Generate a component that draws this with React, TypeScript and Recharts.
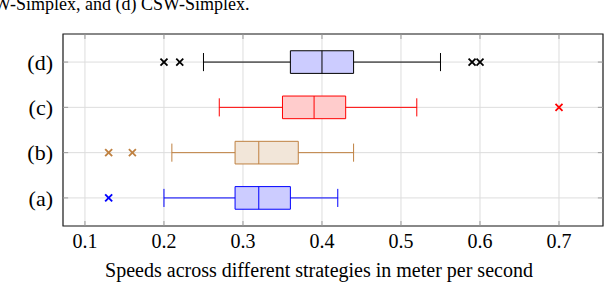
import React from "react";
import {
  ComposedChart,
  XAxis,
  YAxis,
  CartesianGrid,
  Scatter,
  ReferenceArea,
  ReferenceLine,
  Label,
} from "recharts";

// Strategies, bottom to top
const categories = ["(a)", "(b)", "(c)", "(d)"];
const whiskerLow = [0.2, 0.21, 0.27, 0.25];
const lowerQuartile = [0.29, 0.29, 0.35, 0.36];
const medians = [0.32, 0.32, 0.39, 0.4];
const upperQuartile = [0.36, 0.37, 0.43, 0.44];
const whiskerHigh = [0.42, 0.44, 0.52, 0.55];
const outliers = [[0.13], [0.13, 0.16], [0.7], [0.2, 0.22, 0.59, 0.6]];

const xTicks = [0.1, 0.2, 0.3, 0.4, 0.5, 0.6, 0.7];
const yTicks = [1, 2, 3, 4];

const lineColors = ["#0000ff", "#bf8040", "#ff0000", "#000000"];
const fillColors = ["#ccccff", "#f2e6d9", "#ffcccc", "#ccccff"];

const X_MIN = 0.0722;
const X_MAX = 0.7557;
const Y_MIN = 0.38;
const Y_MAX = 4.62;
const BOX_HALF = 0.25;
const CAP_HALF = 0.2;
const SERIF = "'Liberation Serif', 'Times New Roman', serif";

const CrossMark = (color: string) => (props: any) => {
  const { cx, cy } = props;
  const r = 3.5;
  return (
    <g stroke={color} strokeWidth={1.8}>
      <line x1={cx - r} y1={cy - r} x2={cx + r} y2={cy + r} />
      <line x1={cx - r} y1={cy + r} x2={cx + r} y2={cy - r} />
    </g>
  );
};

export default function App() {
  return (
    <div style={{ position: "absolute", left: 0, top: 0, width: 604, height: 286, overflow: "hidden", background: "#fff" }}>
      <div
        style={{
          position: "absolute",
          left: -6,
          top: -6,
          fontFamily: SERIF,
          fontSize: 18,
          whiteSpace: "nowrap",
          color: "#000",
        }}
      >
        W-Simplex, and (d) CSW-Simplex.
      </div>
      <ComposedChart
        width={604}
        height={286}
        margin={{ top: 34, right: 1, bottom: 0, left: 0 }}
      >
        <CartesianGrid stroke="#dddddd" strokeWidth={1} />
        <XAxis
          type="number"
          dataKey="x"
          domain={[X_MIN, X_MAX]}
          ticks={xTicks}
          allowDataOverflow
          height={60}
          tickLine={false}
          axisLine={false}
          tickFormatter={(v: number) => v.toFixed(1)}
          tick={{ fontFamily: SERIF, fontSize: 20, fill: "#000" }}
        >
          <Label
            value="Speeds across different strategies in meter per second"
            position="insideBottom"
            offset={9}
            dx={-14}
            style={{ fontFamily: SERIF, fontSize: 20, fill: "#000" }}
          />
        </XAxis>
        <YAxis
          type="number"
          dataKey="y"
          domain={[Y_MIN, Y_MAX]}
          ticks={yTicks}
          allowDataOverflow
          width={63}
          tickLine={false}
          axisLine={false}
          tickMargin={4}
          tickFormatter={(v: number) => categories[v - 1]}
          tick={{ fontFamily: SERIF, fontSize: 22, fill: "#000" }}
        />

        {/* inner tick marks */}
        {xTicks.map((t) => (
          <ReferenceLine key={"xb" + t} segment={[{ x: t, y: Y_MIN }, { x: t, y: Y_MIN + 0.11 }]} stroke="#999" />
        ))}
        {xTicks.map((t) => (
          <ReferenceLine key={"xt" + t} segment={[{ x: t, y: Y_MAX }, { x: t, y: Y_MAX - 0.11 }]} stroke="#999" />
        ))}
        {yTicks.map((t) => (
          <ReferenceLine key={"yl" + t} segment={[{ x: X_MIN, y: t }, { x: X_MIN + 0.0065, y: t }]} stroke="#999" />
        ))}
        {yTicks.map((t) => (
          <ReferenceLine key={"yr" + t} segment={[{ x: X_MAX, y: t }, { x: X_MAX - 0.0065, y: t }]} stroke="#999" />
        ))}

        {/* whiskers */}
        {categories.map((c, i) => (
          <ReferenceLine key={"wl" + c} segment={[{ x: whiskerLow[i], y: i + 1 }, { x: lowerQuartile[i], y: i + 1 }]} stroke={lineColors[i]} strokeWidth={1} />
        ))}
        {categories.map((c, i) => (
          <ReferenceLine key={"wh" + c} segment={[{ x: upperQuartile[i], y: i + 1 }, { x: whiskerHigh[i], y: i + 1 }]} stroke={lineColors[i]} strokeWidth={1} />
        ))}
        {categories.map((c, i) => (
          <ReferenceLine key={"cl" + c} segment={[{ x: whiskerLow[i], y: i + 1 - CAP_HALF }, { x: whiskerLow[i], y: i + 1 + CAP_HALF }]} stroke={lineColors[i]} strokeWidth={1} />
        ))}
        {categories.map((c, i) => (
          <ReferenceLine key={"ch" + c} segment={[{ x: whiskerHigh[i], y: i + 1 - CAP_HALF }, { x: whiskerHigh[i], y: i + 1 + CAP_HALF }]} stroke={lineColors[i]} strokeWidth={1} />
        ))}

        {/* boxes */}
        {categories.map((c, i) => (
          <ReferenceArea
            key={"box" + c}
            x1={lowerQuartile[i]}
            x2={upperQuartile[i]}
            y1={i + 1 - BOX_HALF}
            y2={i + 1 + BOX_HALF}
            fill={fillColors[i]}
            fillOpacity={1}
            stroke={lineColors[i]}
            strokeWidth={1}
          />
        ))}
        {categories.map((c, i) => (
          <ReferenceLine key={"med" + c} segment={[{ x: medians[i], y: i + 1 - BOX_HALF }, { x: medians[i], y: i + 1 + BOX_HALF }]} stroke={lineColors[i]} strokeWidth={1} />
        ))}

        {/* outliers */}
        {categories.map((c, i) => (
          <Scatter
            key={"out" + c}
            data={outliers[i].map((v) => ({ x: v, y: i + 1 }))}
            shape={CrossMark(lineColors[i])}
            isAnimationActive={false}
          />
        ))}

        {/* frame */}
        <ReferenceArea x1={X_MIN} x2={X_MAX} y1={Y_MIN} y2={Y_MAX} fill="none" stroke="#222" strokeWidth={1.2} />
      </ComposedChart>
    </div>
  );
}
